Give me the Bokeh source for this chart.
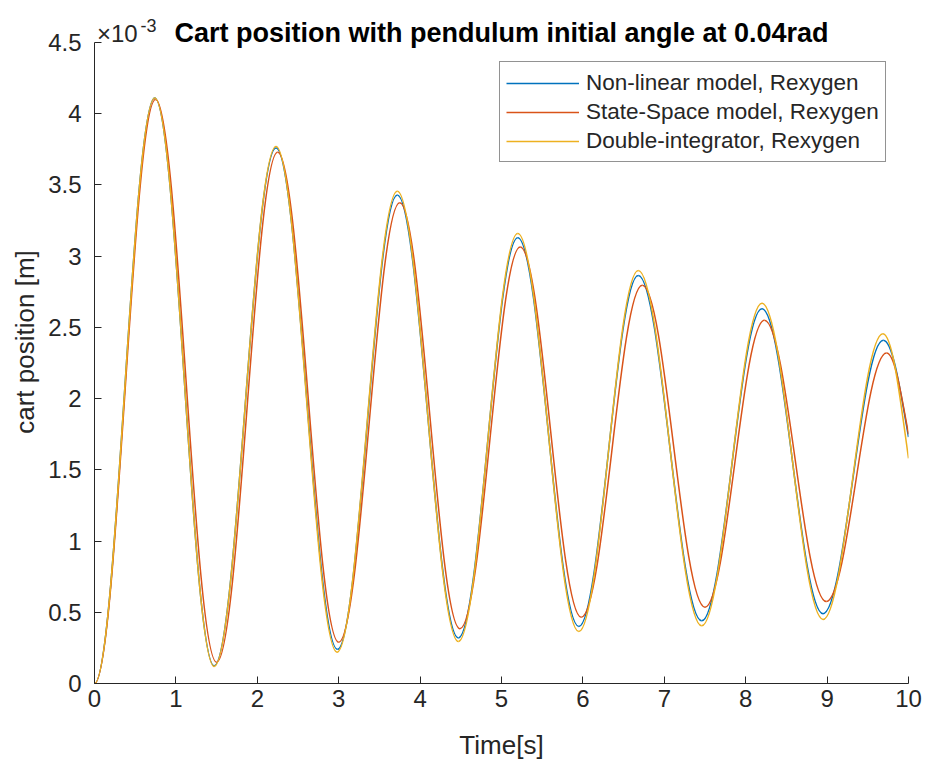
import numpy as np
from bokeh.plotting import figure
from bokeh.models import (Range1d, FixedTicker, PrintfTickFormatter, Legend,
                          LegendItem, Label, ColumnDataSource)
from bokeh.embed import file_html
from bokeh.resources import INLINE

# Values in units of 1e-3 m (axis shows x10^-3), read at the turning points of each curve
t_nonlinear = [0.0, 0.74, 1.47, 2.23, 2.985, 3.72, 4.47, 5.20, 5.95, 6.68, 7.46, 8.20, 8.95, 9.69, 10.0]
y_nonlinear = [0.0, 4.11, 0.125, 3.76, 0.24, 3.43, 0.32, 3.13, 0.40, 2.865, 0.44, 2.63, 0.49, 2.41, 1.73]

t_statespace = [0.0, 0.75, 1.50, 2.25, 3.00, 3.75, 4.49, 5.23, 5.98, 6.73, 7.50, 8.23, 8.99, 9.73, 10.0]
y_statespace = [0.0, 4.10, 0.15, 3.73, 0.29, 3.375, 0.385, 3.065, 0.465, 2.795, 0.535, 2.55, 0.575, 2.32, 1.75]

t_double = [0.0, 0.74, 1.47, 2.23, 2.98, 3.72, 4.47, 5.20, 5.95, 6.68, 7.46, 8.20, 8.95, 9.685, 10.0]
y_double = [0.0, 4.11, 0.12, 3.77, 0.22, 3.455, 0.295, 3.16, 0.365, 2.90, 0.405, 2.67, 0.45, 2.455, 1.58]

series_labels = ["Non-linear model, Rexygen", "State-Space model, Rexygen", "Double-integrator, Rexygen"]
series_colors = ["#0072BD", "#D95319", "#EDB120"]

x_ticks = list(range(0, 11))
y_ticks = [0, 0.5, 1, 1.5, 2, 2.5, 3, 3.5, 4, 4.5]
y_axis_top = 4.5

FONT = "Liberation Sans"
AX = "#262626"


def smooth_segments(t, y, c=0.364):
    """Cubic Bezier pieces between consecutive read points (horizontal tangents at turning points)."""
    t = np.asarray(t, float)
    y = np.asarray(y, float)
    x0, y0, x1, y1 = t[:-1], y[:-1], t[1:], y[1:]
    dx = x1 - x0
    cx0 = x0 + c * dx
    cy0 = y0.copy()
    cx1 = x1 - c * dx
    cy1 = y1.copy()
    # final read point lies on a descending flank, not a turning point
    slope = 1.5 * (y1[-1] - y0[-1]) / dx[-1]
    cy1[-1] = y1[-1] - slope * c * dx[-1]
    return ColumnDataSource(dict(x0=x0, y0=y0, x1=x1, y1=y1, cx0=cx0, cy0=cy0, cx1=cx1, cy1=cy1))


# plot frame spans the whole height above the x axis so the title area is not clipped;
# the y axis itself is bounded to 0..4.5
FRAME_H = 683
AXIS_TOP_PX = 42
y_end = y_axis_top * FRAME_H / (FRAME_H - AXIS_TOP_PX)

p = figure(width=927, height=764, output_backend="svg", toolbar_location=None,
           x_range=Range1d(0, 10), y_range=Range1d(0, y_end),
           min_border_left=94, min_border_right=19, min_border_top=0, min_border_bottom=81)
p.outline_line_color = None
p.xgrid.visible = False
p.ygrid.visible = False
p.background_fill_color = "white"
p.border_fill_color = "white"

renderers = []
for t, y, col in [(t_nonlinear, y_nonlinear, series_colors[0]),
                  (t_statespace, y_statespace, series_colors[1]),
                  (t_double, y_double, series_colors[2])]:
    src = smooth_segments(t, y)
    r = p.bezier(x0="x0", y0="y0", x1="x1", y1="y1", cx0="cx0", cy0="cy0", cx1="cx1", cy1="cy1",
                 source=src, line_color=col, line_width=1.5)
    renderers.append(r)

for ax in (p.xaxis[0], p.yaxis[0]):
    ax.axis_line_color = AX
    ax.major_tick_line_color = AX
    ax.major_tick_in = 7
    ax.major_tick_out = 0
    ax.minor_tick_line_color = None
    ax.major_label_text_font = FONT
    ax.major_label_text_font_size = "24px"
    ax.major_label_text_color = AX
    ax.axis_label_text_font = FONT
    ax.axis_label_text_font_size = "26px"
    ax.axis_label_text_font_style = "normal"
    ax.axis_label_text_color = AX

p.xaxis[0].ticker = FixedTicker(ticks=x_ticks)
p.xaxis[0].axis_label = "Time[s]"
p.xaxis[0].major_label_standoff = 6
p.xaxis[0].axis_label_standoff = 20

p.yaxis[0].ticker = FixedTicker(ticks=y_ticks)
p.yaxis[0].bounds = (0, y_axis_top)
p.yaxis[0].formatter = PrintfTickFormatter(format="%g")
p.yaxis[0].axis_label = "cart position [m]"
p.yaxis[0].major_label_standoff = 13
p.yaxis[0].axis_label_standoff = 5

legend = Legend(items=[LegendItem(label=lab, renderers=[r]) for lab, r in zip(series_labels, renderers)],
                location=(405, 521), padding=6, spacing=0,
                glyph_width=73, glyph_height=20, label_standoff=7, label_height=29,
                label_text_font=FONT, label_text_font_size="22.5px", label_text_color=AX,
                border_line_color=AX, border_line_width=1, background_fill_color="white",
                background_fill_alpha=1.0)
p.add_layout(legend)

p.add_layout(Label(x=5.0, y=4.565, text="Cart position with pendulum initial angle at 0.04rad",
                   text_align="center", text_baseline="alphabetic", text_font=FONT,
                   text_font_size="27px", text_font_style="bold", text_color="black"))
p.add_layout(Label(x=0.03, y=4.565, text="×10", text_align="left", text_baseline="alphabetic",
                   text_font=FONT, text_font_size="24px", text_color=AX))
p.add_layout(Label(x=0.565, y=4.621, text="-3", text_align="left", text_baseline="alphabetic",
                   text_font=FONT, text_font_size="18px", text_color=AX))

open("out.html", "w").write(file_html(p, INLINE))
